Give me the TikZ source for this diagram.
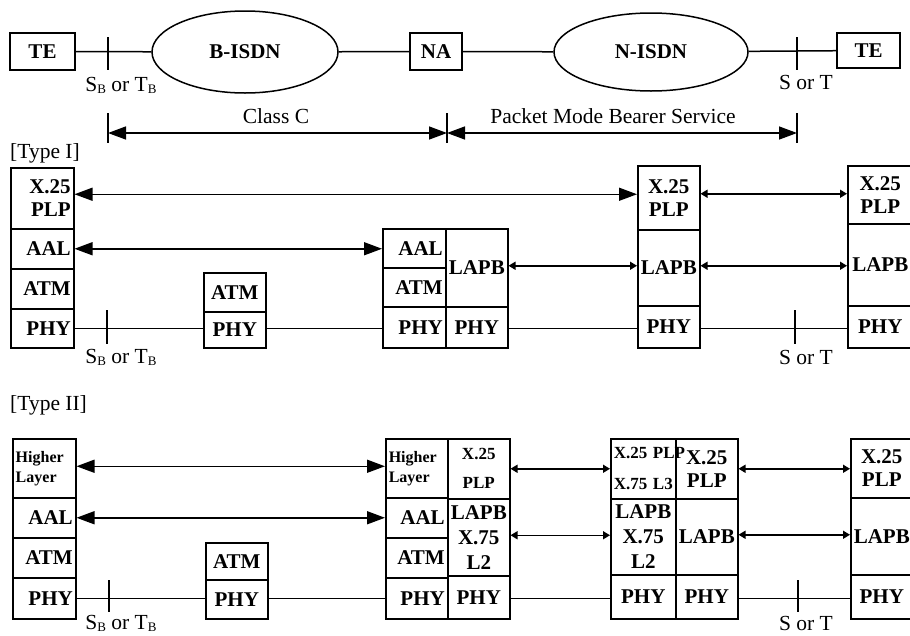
\documentclass[tikz,border=0pt]{standalone}
\usepackage{fontspec}
\setmainfont{Liberation Serif}
\usetikzlibrary{arrows.meta,shapes.geometric}
\tikzset{
  ln/.style={line width=1.5pt},
  cell/.style={draw, line width=1.5pt, inner xsep=3pt, inner ysep=0pt, align=center,
    font=\fontsize{21}{23}\selectfont\bfseries},
  small/.style={font=\fontsize{17}{29}\selectfont\bfseries},
  hl/.style={font=\fontsize{16}{20}\selectfont\bfseries, align=left},
  topbox/.style={draw, line width=1.5pt, inner sep=0pt, font=\fontsize{21}{23}\selectfont\bfseries},
  net/.style={ellipse, draw, line width=1.5pt, inner sep=0pt, font=\fontsize{21}{23}\selectfont\bfseries},
  txt/.style={inner sep=0pt, font=\fontsize{21.5}{24}\selectfont},
  bigarr/.style={line width=1.5pt, {Triangle[length=18pt,width=13pt]}-{Triangle[length=18pt,width=13pt]}},
  smallarr/.style={line width=1.5pt, {Triangle[length=7pt,width=8pt]}-{Triangle[length=7pt,width=8pt]}},
}
\newcommand\cellat[7][]{%
  \pgfmathsetmacro\cw{#5-#3}\pgfmathsetmacro\ch{#6-#4}\pgfmathsetmacro\tw{#5-#3-6}%
  \node[cell, minimum width=\cw pt, minimum height=\ch pt, text width=\tw pt, anchor=north west, #1] (#2) at (#3,#4) {#7};}
\newcommand\sbtb{S\raisebox{-2pt}{\fontsize{13}{13}\selectfont B} or T\raisebox{-2pt}{\fontsize{13}{13}\selectfont B}}
\begin{document}
\begin{tikzpicture}[x=1pt,y=-1pt]
\clip (0,0) rectangle (910,635);
% ---------- top row ----------
\node[topbox, minimum width=65pt, minimum height=37pt] (te1) at (42.5,51.5) {TE};
\node[net, minimum width=186pt, minimum height=82pt] (bisdn) at (245,52) {B-ISDN};
\node[topbox, minimum width=52pt, minimum height=37pt] (na) at (436,51.5) {NA};
\node[net, minimum width=194pt, minimum height=78pt] (nisdn) at (651,52) {N-ISDN};
\node[topbox, minimum width=63pt, minimum height=35pt] (te2) at (868.5,50.5) {TE};
\draw[ln] (te1) -- (bisdn);
\draw[ln] (bisdn) -- (na);
\draw[ln] (na) -- (nisdn);
\draw[ln] (nisdn) -- (te2);
\coordinate (tka1) at (108,37); \coordinate (tka2) at (108,70);
\coordinate (tkb1) at (797,37); \coordinate (tkb2) at (797,70);
\draw[ln] (tka1) -- (tka2);
\draw[ln] (tkb1) -- (tkb2);
\node[txt] (lsb0) at (121,85) {\sbtb};
\node[txt] (lst0) at (806,82) {S or T};
% dimension arrows
\coordinate (dA) at (108,133); \coordinate (dB) at (447,133); \coordinate (dC) at (797,133);
\draw[ln] (108,113) -- (108,143);
\draw[ln] (447,113) -- (447,143);
\draw[ln] (797,113) -- (797,143);
\draw[bigarr] (dA) -- (dB);
\draw[bigarr] (dB) -- (dC);
\node[txt] (lclassc) at (276,116) {Class C};
\node[txt] (lpmbs) at (613,116) {Packet Mode Bearer Service};
% ---------- Type I ----------
\node[txt, anchor=west] (ltype1) at (10,153) {[Type I]};
\cellat[align=right]{t1aplp}{10}{167}{73}{228}{X.25\\PLP}
\cellat[align=right]{t1aaal}{10}{228}{73}{268}{AAL}
\cellat[align=right]{t1aatm}{10}{268}{73}{308}{ATM}
\cellat[align=right]{t1aphy}{10}{308}{73}{347}{PHY}
\cellat{t1batm}{203}{272}{265}{311}{ATM}
\cellat{t1bphy}{203}{311}{265}{347}{PHY}
\cellat[align=right]{t1caal}{382}{228}{445}{267}{AAL}
\cellat[align=right]{t1catm}{382}{267}{445}{306}{ATM}
\cellat[align=right]{t1cphy}{382}{306}{445}{347}{PHY}
\cellat{t1clapb}{445}{228}{507}{306}{LAPB}
\cellat{t1cphyb}{445}{306}{507}{347}{PHY}
\cellat{t1dplp}{637}{165}{699}{229}{X.25\\PLP}
\cellat{t1dlapb}{637}{229}{699}{305}{LAPB}
\cellat{t1dphy}{637}{305}{699}{347}{PHY}
\cellat{t1eplp}{847}{165}{912}{223}{X.25\\PLP}
\cellat{t1elapb}{847}{223}{912}{305}{LAPB}
\cellat{t1ephy}{847}{305}{912}{347}{PHY}
\draw[bigarr] ([yshift=4pt]t1aplp.east) -- ([yshift=4pt]t1aplp.east -| t1dplp.west);
\draw[bigarr] (t1aaal.east) -- (t1aaal.east -| t1caal.west);
\draw[smallarr] ([yshift=2pt]t1clapb.east) -- ([yshift=2pt]t1clapb.east -| t1dlapb.west);
\draw[smallarr] ([yshift=4pt]t1dplp.east) -- ([yshift=4pt]t1dplp.east -| t1eplp.west);
\draw[smallarr] ([yshift=2pt]t1dlapb.east) -- ([yshift=2pt]t1dlapb.east -| t1elapb.west);
\draw[ln] (t1aphy.east) -- (t1aphy.east -| t1bphy.west);
\draw[ln] (t1aphy.east -| t1bphy.east) -- (t1aphy.east -| t1cphy.west);
\draw[ln] (t1aphy.east -| t1cphyb.east) -- (t1aphy.east -| t1dphy.west);
\draw[ln] (t1aphy.east -| t1dphy.east) -- (t1aphy.east -| t1ephy.west);
\coordinate (tkc1) at (107,310); \coordinate (tkc2) at (107,344);
\coordinate (tkd1) at (795,310); \coordinate (tkd2) at (795,344);
\draw[ln] (tkc1) -- (tkc2);
\draw[ln] (tkd1) -- (tkd2);
\node[txt] (lsb1) at (121,357) {\sbtb};
\node[txt] (lst1) at (806,357) {S or T};
% ---------- Type II ----------
\node[txt, anchor=west] (ltype2) at (10,405) {[Type II]};
\cellat[hl]{t2ahl}{12}{438}{75}{497}{Higher\\Layer}
\cellat[align=right]{t2aaal}{12}{497}{75}{537}{AAL}
\cellat[align=right]{t2aatm}{12}{537}{75}{577}{ATM}
\cellat[align=right]{t2aphy}{12}{577}{75}{618}{PHY}
\cellat{t2batm}{205}{542}{267}{579}{ATM}
\cellat{t2bphy}{205}{579}{267}{618}{PHY}
\cellat[hl]{t2chl}{385}{438}{447}{497}{Higher\\Layer}
\cellat[align=right]{t2caal}{385}{497}{447}{537}{AAL}
\cellat[align=right]{t2catm}{385}{537}{447}{577}{ATM}
\cellat[align=right]{t2cphy}{385}{577}{447}{618}{PHY}
\cellat[small]{t2cplp}{447}{438}{509}{498}{X.25\\PLP}
\cellat[font=\fontsize{21}{25}\selectfont\bfseries]{t2clapb}{447}{498}{509}{575}{LAPB\\X.75\\L2}
\cellat{t2cphyb}{447}{575}{509}{618}{PHY}
\cellat[font=\fontsize{17}{31}\selectfont\bfseries]{t2dplp}{610}{438}{675}{498}{X.25~PLP\\X.75~L3}
\cellat[font=\fontsize{21}{25}\selectfont\bfseries]{t2dlapb}{610}{498}{675}{574}{LAPB\\X.75\\L2}
\cellat{t2dphy}{610}{574}{675}{618}{PHY}
\cellat{t2dplpb}{675}{438}{737}{498}{X.25\\PLP}
\cellat{t2dlapbb}{675}{498}{737}{574}{LAPB}
\cellat{t2dphyb}{675}{574}{737}{618}{PHY}
\cellat{t2eplp}{850}{438}{912}{497}{X.25\\PLP}
\cellat{t2elapb}{850}{497}{912}{574}{LAPB}
\cellat{t2ephy}{850}{574}{912}{618}{PHY}
\draw[bigarr] ([yshift=2pt]t2ahl.east) -- ([yshift=2pt]t2ahl.east -| t2chl.west);
\draw[bigarr] (t2aaal.east) -- (t2aaal.east -| t2caal.west);
\draw[smallarr] (t2cplp.east) -- (t2cplp.east -| t2dplp.west);
\draw[smallarr] ([yshift=2pt]t2clapb.east) -- ([yshift=2pt]t2clapb.east -| t2dlapb.west);
\draw[smallarr] (t2dplpb.east) -- (t2dplpb.east -| t2eplp.west);
\draw[smallarr] ([yshift=2pt]t2dlapbb.east) -- ([yshift=2pt]t2dlapbb.east -| t2elapb.west);
\draw[ln] (t2aphy.east) -- (t2aphy.east -| t2bphy.west);
\draw[ln] (t2aphy.east -| t2bphy.east) -- (t2aphy.east -| t2cphy.west);
\draw[ln] (t2aphy.east -| t2cphyb.east) -- (t2aphy.east -| t2dphy.west);
\draw[ln] (t2aphy.east -| t2dphyb.east) -- (t2aphy.east -| t2ephy.west);
\coordinate (tke1) at (109,580); \coordinate (tke2) at (109,612);
\coordinate (tkf1) at (798,580); \coordinate (tkf2) at (798,612);
\draw[ln] (tke1) -- (tke2);
\draw[ln] (tkf1) -- (tkf2);
\node[txt] (lsb2) at (121,623) {\sbtb};
\node[txt] (lst2) at (806,623) {S or T};
\end{tikzpicture}
\end{document}
